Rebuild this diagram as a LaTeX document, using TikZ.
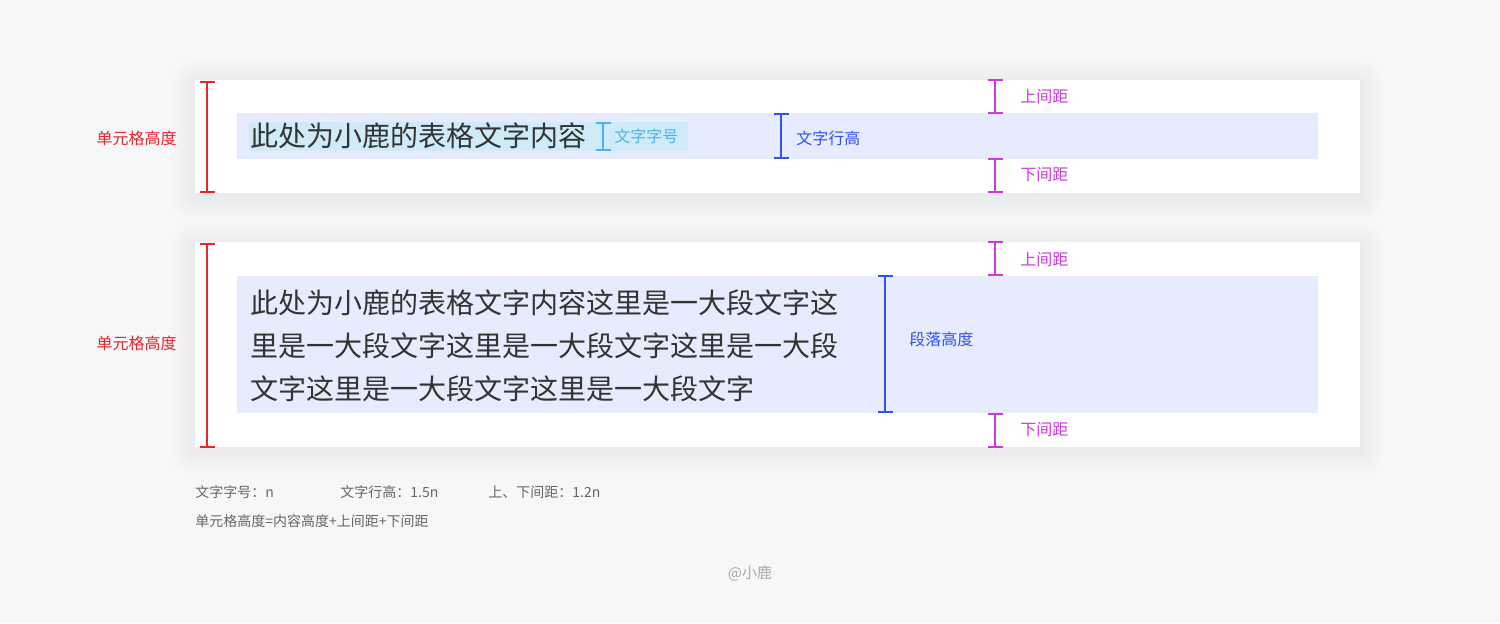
\documentclass[tikz,border=0pt]{standalone}
\usepackage{fontspec}
\setmainfont{Noto Sans CJK SC}
\usepackage{tikz}
\usetikzlibrary{arrows.meta, positioning}

\definecolor{pagebg}{HTML}{F6F7F9}
\definecolor{bandblue}{HTML}{E6EBFD}
\definecolor{hlcyan}{HTML}{CFEBF8}
\definecolor{bodytext}{HTML}{333333}
\definecolor{sizecyan}{HTML}{4AB3F2}
\definecolor{lineblue}{HTML}{2F54EB}
\definecolor{gapmag}{HTML}{CC3ADC}
\definecolor{cellred}{HTML}{E5262B}
\definecolor{notegray}{HTML}{666666}
\definecolor{markgray}{HTML}{AAAAAA}

\tikzset{
  card/.style={fill=white, draw=none},
  dim/.style={line width=1pt, {Bar[width=7.5pt, line width=1pt]}-{Bar[width=7.5pt, line width=1pt]}},
  lbl/.style={inner sep=0pt, font=\fontsize{8}{10}\selectfont},
  cell/.style={inner sep=0pt, anchor=west, text=bodytext, font=\fontsize{14}{21.5}\selectfont},
  note/.style={inner sep=0pt, anchor=west, text=notegray, font=\fontsize{7}{9}\selectfont},
}

\begin{document}
\begin{tikzpicture}[x=0.5pt, y=-0.5pt]
  % page
  \fill[pagebg] (0,0) rectangle (1500,623);
  \useasboundingbox (0,0) rectangle (1500,623);

  % soft shadows of the two cards
  \foreach \s in {2,4,...,24} {
    \fill[black, opacity=0.0035, rounded corners=\s*0.5pt] (195-\s,80-\s+4) rectangle (1360+\s,193+\s+4);
    \fill[black, opacity=0.0035, rounded corners=\s*0.5pt] (195-\s,242-\s+4) rectangle (1360+\s,447+\s+4);
  }

  % card 1: one line of text
  \fill[card] (195,80) rectangle (1360,193);
  \fill[bandblue] (237,113) rectangle (1318,159);
  \fill[hlcyan] (249,122) rectangle (688,151);
  \node[cell] (txt1) at (250,136) {此处为小鹿的表格文字内容};
  \coordinate (fs1) at (603,122);
  \coordinate (fs2) at (603,151);
  \draw[dim, sizecyan] (fs1) -- (fs2);
  \node[lbl, text=sizecyan, anchor=west] (fslbl) at (614,136) {文字字号};
  \coordinate (lh1) at (781,113);
  \coordinate (lh2) at (781,159);
  \draw[dim, lineblue] (lh1) -- (lh2);
  \node[lbl, text=lineblue, anchor=west] (lhlbl) at (796,138) {文字行高};
  \coordinate (ta1) at (995,79);
  \coordinate (ta2) at (995,114);
  \draw[dim, gapmag] (ta1) -- (ta2);
  \node[lbl, text=gapmag, anchor=west] (talbl) at (1020,97) {上间距};
  \coordinate (tb1) at (995,158);
  \coordinate (tb2) at (995,193);
  \draw[dim, gapmag] (tb1) -- (tb2);
  \node[lbl, text=gapmag, anchor=west] (tblbl) at (1020,175) {下间距};
  \coordinate (ch1) at (207,81);
  \coordinate (ch2) at (207,193);
  \draw[dim, cellred] (ch1) -- (ch2);
  \node[lbl, text=cellred, anchor=east] (chlbl) at (177,138) {单元格高度};

  % card 2: a paragraph
  \fill[card] (195,242) rectangle (1360,447);
  \fill[bandblue] (237,276) rectangle (1318,413);
  \node[cell, align=left] (txt2) at (250,345.5)
    {此处为小鹿的表格文字内容这里是一大段文字这\\
     里是一大段文字这里是一大段文字这里是一大段\\
     文字这里是一大段文字这里是一大段文字};
  \coordinate (ph1) at (885,275);
  \coordinate (ph2) at (885,413);
  \draw[dim, lineblue] (ph1) -- (ph2);
  \node[lbl, text=lineblue, anchor=west] (phlbl) at (909,339) {段落高度};
  \coordinate (pa1) at (995,241);
  \coordinate (pa2) at (995,276);
  \draw[dim, gapmag] (pa1) -- (pa2);
  \node[lbl, text=gapmag, anchor=west] (palbl) at (1020,260) {上间距};
  \coordinate (pb1) at (995,413);
  \coordinate (pb2) at (995,448);
  \draw[dim, gapmag] (pb1) -- (pb2);
  \node[lbl, text=gapmag, anchor=west] (pblbl) at (1020,430) {下间距};
  \coordinate (pc1) at (207,243);
  \coordinate (pc2) at (207,448);
  \draw[dim, cellred] (pc1) -- (pc2);
  \node[lbl, text=cellred, anchor=east] (pclbl) at (177,343) {单元格高度};

  % notes
  \node[note] (n1) at (195,492) {文字字号：n};
  \node[note] (n2) at (340,492) {文字行高：1.5n};
  \node[note] (n3) at (488,492) {上、下间距：1.2n};
  \node[note] (n4) at (195,521) {单元格高度=内容高度+上间距+下间距};

  % signature
  \node[inner sep=0pt, text=markgray, font=\fontsize{7.5}{9}\selectfont] (sig) at (750,573) {@小鹿};
\end{tikzpicture}
\end{document}
